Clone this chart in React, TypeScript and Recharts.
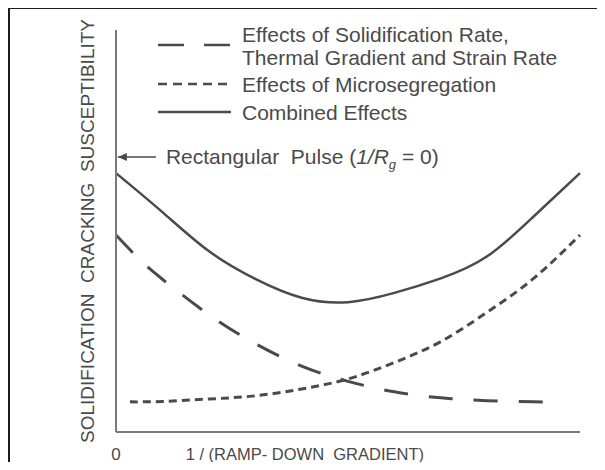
import React from 'react';
import { LineChart, Line, XAxis, YAxis, Legend, ReferenceLine } from 'recharts';

// x = 1 / ramp-down gradient (arbitrary 0..100), y = susceptibility (arbitrary 0..100)
const rateX = [0, 5, 10, 20, 30, 40, 50, 60, 70, 80, 90, 95];
const rateY = [49.0, 43.0, 38.0, 29.2, 22.0, 16.4, 12.6, 10.0, 8.5, 7.8, 7.5, 7.5];

const microX = [3, 10, 20, 30, 40, 50, 60, 70, 80, 90, 100];
const microY = [7.5, 7.6, 8.2, 9.0, 10.7, 13.2, 17.3, 22.5, 29.8, 38.2, 49.0];

const combinedX = [0, 10, 20, 30, 40, 50, 60, 70, 80, 90, 100];
const combinedY = [64.4, 54.7, 45.0, 38.1, 33.4, 32.3, 34.6, 38.2, 43.7, 53.6, 64.4];

const pulseY = 68.4;

const seriesKeys = ['rate', 'micro', 'combined'];
const seriesNames = [
  'Effects of Solidification Rate,\nThermal Gradient and Strain Rate',
  'Effects of Microsegregation',
  'Combined Effects',
];

const toPoints = (key: string, xs: number[], ys: number[]) => xs.map((x, i) => ({ x, [key]: ys[i] }));

const INK = '#4a4a4a';
const AXIS = '#7a7a7a';
const FONT = '"Liberation Sans", Arial, sans-serif';

const dashes: Record<string, string | undefined> = {
  rate: '24 21',
  micro: '8 5',
  combined: undefined,
};
const legendDashes: Record<string, string | undefined> = {
  rate: '26 20',
  micro: '9 6',
  combined: undefined,
};

const LegendBox = (props: any) => {
  const rowY = [45, 84, 112];
  const items = [...(props.payload || [])].sort(
    (a: any, b: any) => seriesKeys.indexOf(a.dataKey) - seriesKeys.indexOf(b.dataKey),
  );
  return (
    <svg width={605} height={130} style={{ display: 'block' }}>
      {items.map((entry: any, i: number) => {
        const key = entry.dataKey as string;
        const lines = String(entry.value).split('\n');
        const y = rowY[i];
        return (
          <g key={key}>
            <line x1={158} x2={231} y1={y} y2={y} stroke={INK} strokeWidth={2.5} strokeDasharray={legendDashes[key]} />
            {lines.map((t, j) => (
              <text
                key={j}
                x={242}
                y={lines.length > 1 ? y - 3 + j * 23 : y + 8}
                fill={INK}
                fontSize={21}
                fontFamily={FONT}
              >
                {t}
              </text>
            ))}
          </g>
        );
      })}
    </svg>
  );
};

const PulseLabel = (props: any) => {
  const { x, y, width } = props.viewBox;
  return (
    <g>
      <polygon points={`${x},${y} ${x + 9},${y - 4} ${x + 9},${y + 4}`} fill={INK} />
      <text x={x + width + 10} y={y + 7} fill={INK} fontSize={21} fontFamily={FONT} style={{ whiteSpace: 'pre' }}>
        {'Rectangular  Pulse ('}
        <tspan fontStyle="italic">1/R</tspan>
        <tspan fontStyle="italic" fontSize={13} dy={5}>g</tspan>
        <tspan dy={-5}>{' = 0)'}</tspan>
      </text>
    </g>
  );
};

const YLabel = (props: any) => {
  const { x, y, height } = props.viewBox;
  const cx = x + 87;
  const cy = y + height / 2;
  return (
    <text
      x={cx}
      y={cy}
      transform={`rotate(-90 ${cx} ${cy})`}
      textAnchor="middle"
      dominantBaseline="central"
      fill={INK}
      fontSize={19}
      fontFamily={FONT}
      style={{ whiteSpace: 'pre' }}
    >
      SOLIDIFICATION  CRACKING  SUSCEPTIBILITY
    </text>
  );
};

const XLabel = (props: any) => {
  const { x, width } = props.viewBox;
  return (
    <text
      x={x + width * 0.407}
      y={460}
      textAnchor="middle"
      fill={INK}
      fontSize={16.5}
      fontFamily={FONT}
      style={{ whiteSpace: 'pre' }}
    >
      1 / (RAMP- DOWN  GRADIENT)
    </text>
  );
};

const App: React.FC = () => {
  const rateData = toPoints('rate', rateX, rateY);
  const microData = toPoints('micro', microX, microY);
  const combinedData = toPoints('combined', combinedX, combinedY);

  return (
    <div style={{ margin: -8, width: 605, height: 470, position: 'relative', overflow: 'hidden', background: '#fff' }}>
      <div
        style={{
          position: 'absolute',
          left: 7,
          top: 6,
          width: 800,
          height: 800,
          borderLeft: '3px solid #1c1c1c',
          borderTop: '3px solid #1c1c1c',
        }}
      />
      <LineChart width={605} height={470} margin={{ top: 30, right: 25, bottom: 8, left: 0 }}>
        <XAxis
          type="number"
          dataKey="x"
          domain={[0, 100]}
          ticks={[0]}
          tickLine={false}
          tickMargin={10}
          height={30}
          stroke={AXIS}
          strokeWidth={2}
          axisLine={true}
          tick={{ fill: INK, fontSize: 17, fontFamily: FONT }}
          label={<XLabel />}
        />
        <YAxis
          type="number"
          domain={[0, 100]}
          width={116}
          tick={false}
          tickLine={false}
          stroke={AXIS}
          strokeWidth={2}
          axisLine={true}
          label={<YLabel />}
        />
        <Legend
          layout="vertical"
          align="center"
          verticalAlign="middle"
          wrapperStyle={{ top: 0, left: 0, width: 605, height: 130 }}
          content={<LegendBox />}
        />
        <ReferenceLine
          segment={[
            { x: 0.4, y: pulseY },
            { x: 8.6, y: pulseY },
          ]}
          stroke={INK}
          strokeWidth={1.5}
          label={<PulseLabel />}
        />
        <Line
          data={rateData}
          dataKey="rate"
          name={seriesNames[0]}
          type="natural"
          stroke={INK}
          strokeWidth={3}
          strokeDasharray={dashes.rate}
          dot={false}
          isAnimationActive={false}
        />
        <Line
          data={microData}
          dataKey="micro"
          name={seriesNames[1]}
          type="natural"
          stroke={INK}
          strokeWidth={3}
          strokeDasharray={dashes.micro}
          dot={false}
          isAnimationActive={false}
        />
        <Line
          data={combinedData}
          dataKey="combined"
          name={seriesNames[2]}
          type="natural"
          stroke={INK}
          strokeWidth={2.5}
          dot={false}
          isAnimationActive={false}
        />
      </LineChart>
    </div>
  );
};

export default App;
